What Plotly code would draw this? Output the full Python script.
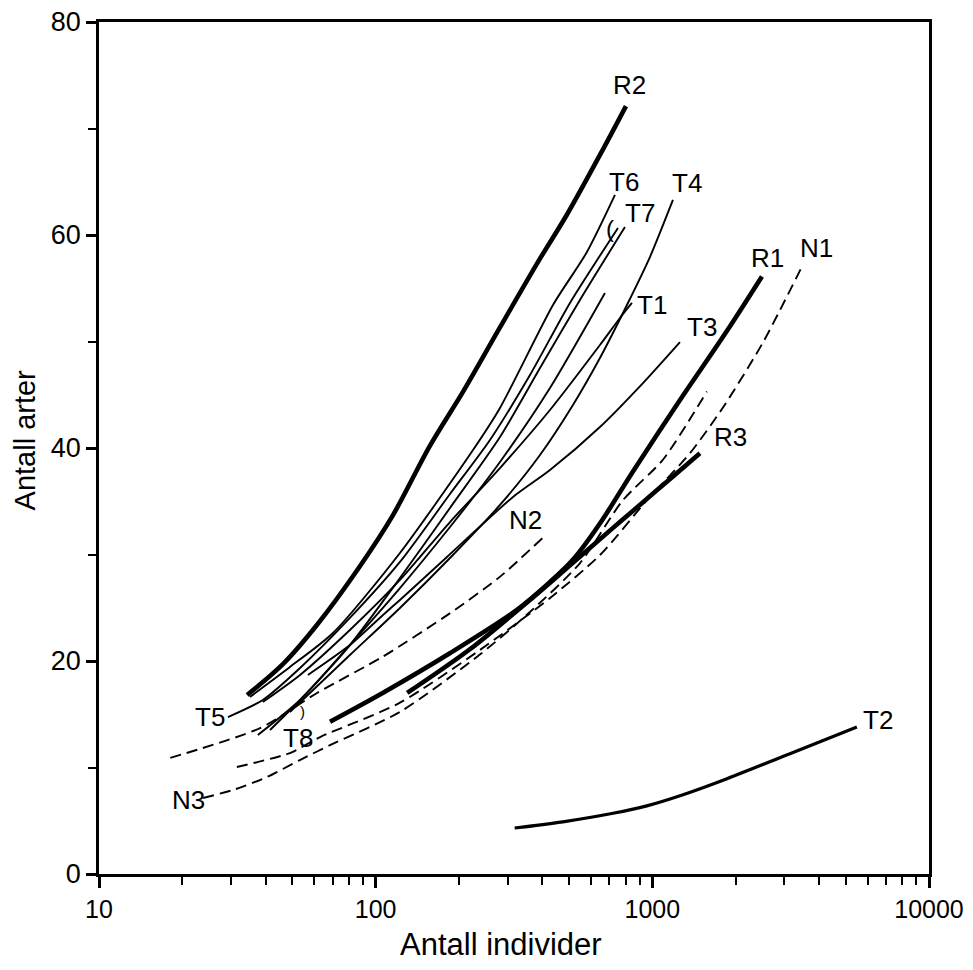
import math
import plotly.graph_objects as go

# ---- data ----
R2_x = [34.3, 46.2, 61.4, 87.7, 115.5, 157, 207, 281, 393, 491, 662, 803]
R2_y = [16.8, 19.7, 23.4, 28.9, 33.7, 40.2, 45.3, 51.3, 57.8, 61.9, 68.0, 72.1]

R1_x = [68.4, 106, 186, 324, 426, 520, 650, 851, 1259, 1862, 2490]
R1_y = [14.3, 17.0, 20.75, 24.8, 27.4, 29.6, 33.0, 37.8, 44.5, 51.0, 56.1]

R3_x = [130, 219, 352, 475, 721, 925, 1159, 1486]
R3_y = [17.0, 21.1, 25.5, 28.4, 32.5, 34.9, 37.1, 39.5]

T6_x = [35.1, 49.0, 70.1, 122.4, 224.8, 281.4, 437.4, 580.2, 732.7]
T6_y = [16.62, 19.44, 22.63, 30.14, 39.81, 43.76, 53.43, 58.40, 63.76]

T5_x = [29.25, 39.1, 53.3, 80.7, 122.4, 185.6, 258.9, 361.2, 503.8, 751.3]
T5_y = [14.74, 16.34, 19.34, 24.04, 29.30, 35.68, 40.75, 46.85, 53.62, 60.66]

T7_x = [41.5, 53.3, 80.7, 122.4, 185.6, 281.4, 392.6, 547.4, 796.2]
T7_y = [13.52, 16.34, 21.50, 27.79, 34.37, 41.03, 47.51, 53.90, 60.75]

T8_x = [37.5, 53.3, 80.7, 122.4, 185.6, 281.4, 426.6, 674.1]
T8_y = [13.05, 16.34, 21.5, 26.85, 32.58, 38.69, 45.63, 54.55]

T1_x = [39.1, 53.3, 80.7, 122.4, 185.6, 281.4, 426.6, 646.5, 763.6, 843.9]
T1_y = [16.15, 18.69, 22.91, 27.61, 33.05, 38.12, 43.57, 49.67, 52.21, 53.62]

T4_x = [49.0, 80.7, 122.4, 185.6, 281.4, 392.6, 516.5, 646.5, 809.5, 980.2, 1187]
T4_y = [15.21, 20.56, 24.98, 29.67, 34.65, 39.34, 44.04, 48.45, 53.43, 57.93, 63.29]

T3_x = [56.9, 80.7, 106.3, 122.4, 181, 313.6, 426.6, 646.5, 924.9, 1258.6]
T3_y = [18.69, 21.5, 24.32, 25.73, 29.77, 35.4, 37.93, 41.97, 46.1, 49.95]

T2_x = [318, 475, 721, 955, 1259, 1862, 3143, 5487]
T2_y = [4.32, 4.9, 5.7, 6.4, 7.35, 8.95, 11.3, 13.8]

N1_x = [31.5, 49, 63, 122, 238, 426, 647, 956, 1367, 1800, 2510, 3500]
N1_y = [10.05, 11.36, 12.86, 16.06, 21.03, 25.9, 29.95, 35.1, 39.5, 43.8, 49.9, 57.2]

N2_x = [18.1, 38.2, 61.4, 106, 186, 281, 403]
N2_y = [10.9, 13.7, 17.0, 20.4, 24.5, 27.9, 31.6]

N3_x = [23.8, 30.5, 40.4, 53.2, 68.4, 122, 238, 361, 548, 783, 1092, 1574]
N3_y = [7.14, 7.89, 9.1, 10.7, 12.1, 15.2, 20.6, 24.6, 29.2, 35.1, 38.9, 45.3]

label_text = ["R2", "T6", "T7", "T4", "T1", "T3", "R1", "N1", "R3", "N2", "T5", "T8", "N3", "T2"]
label_x = [830, 789, 901, 1333, 997, 1510, 2618, 3936, 1923, 349, 25.2, 52.4, 21.0, 6531]
label_y = [74.1, 65.0, 62.1, 64.9, 53.4, 51.4, 57.8, 58.8, 41.0, 33.2, 14.7, 12.8, 6.95, 14.5]

mark_text = ["(", ")"]
mark_x = [703, 54.2]
mark_y = [60.6, 15.3]
mark_size = [24, 15]

x_tick_vals = [10, 100, 1000, 10000]
x_tick_text = ["10", "100", "1000", "10000"]
x_minor_vals = [m * d for d in (10, 100, 1000) for m in range(2, 10)]
y_tick_vals = [0, 20, 40, 60, 80]
y_minor_vals = [10, 30, 50, 70]

x_title = "Antall individer"
y_title = "Antall arter"

# ---- figure ----
fig = go.Figure()

def add_line(xs, ys, width, dash="solid", smoothing=0.7):
    fig.add_trace(go.Scatter(x=xs, y=ys, mode="lines",
                             line=dict(color="black", width=width, dash=dash,
                                       shape="spline", smoothing=smoothing),
                             showlegend=False, hoverinfo="skip"))

THIN = 1.9
THICK = 4.6
DASH = "11px,6px"

for xs, ys in [(T6_x, T6_y), (T5_x, T5_y), (T7_x, T7_y), (T8_x, T8_y),
               (T1_x, T1_y), (T4_x, T4_y), (T3_x, T3_y)]:
    add_line(xs, ys, THIN)
add_line(T2_x, T2_y, 3.2, smoothing=1.0)
for xs, ys in [(N1_x, N1_y), (N2_x, N2_y), (N3_x, N3_y)]:
    add_line(xs, ys, THIN, DASH)
for xs, ys in [(R2_x, R2_y), (R1_x, R1_y), (R3_x, R3_y)]:
    add_line(xs, ys, THICK, smoothing=0.9)

FAMILY = "Liberation Sans, Arial, Helvetica, sans-serif"

# annotation x on a log axis is given in log10 units
for t, x, y in zip(label_text, label_x, label_y):
    fig.add_annotation(x=math.log10(x), y=y, xref="x", yref="y", text=t, showarrow=False,
                       xanchor="center", yanchor="middle",
                       font=dict(family=FAMILY, size=26, color="black"))
for t, x, y, s in zip(mark_text, mark_x, mark_y, mark_size):
    fig.add_annotation(x=math.log10(x), y=y, xref="x", yref="y", text=t, showarrow=False,
                       xanchor="center", yanchor="middle",
                       font=dict(family=FAMILY, size=s, color="black"))

# axis titles
fig.add_annotation(x=0.484, y=-0.083, xref="paper", yref="paper", text=x_title,
                   showarrow=False, xanchor="center", yanchor="middle",
                   font=dict(family=FAMILY, size=31, color="black"))
fig.add_annotation(x=-0.089, y=0.509, xref="paper", yref="paper", text=y_title,
                   showarrow=False, xanchor="center", yanchor="middle", textangle=-90,
                   font=dict(family=FAMILY, size=29, color="black"))

fig.update_layout(
    width=973, height=970,
    margin=dict(l=91, r=52, t=14, b=104),
    paper_bgcolor="white", plot_bgcolor="white",
    showlegend=False,
    xaxis=dict(type="log", range=[1, 4], showgrid=False, zeroline=False, automargin=False,
               showline=True, linecolor="black", linewidth=2.5, mirror=True,
               tickmode="array", tickvals=x_tick_vals, ticktext=x_tick_text,
               ticks="outside", ticklen=11, tickwidth=2.5, tickcolor="black",
               ticklabeloverflow="allow",
               tickfont=dict(size=25, family=FAMILY, color="black"),
               minor=dict(tickmode="array", tickvals=x_minor_vals, ticks="outside",
                          ticklen=8, tickwidth=2.2, tickcolor="black", showgrid=False)),
    yaxis=dict(range=[0, 80], showgrid=False, zeroline=False, automargin=False,
               showline=True, linecolor="black", linewidth=2.5, mirror=True,
               tickmode="array", tickvals=y_tick_vals,
               ticks="outside", ticklen=10, tickwidth=2.5, tickcolor="black",
               ticklabeloverflow="allow",
               tickfont=dict(size=27, family=FAMILY, color="black"),
               minor=dict(tickmode="array", tickvals=y_minor_vals, ticks="outside",
                          ticklen=8, tickwidth=2.2, tickcolor="black", showgrid=False)),
)

fig.write_html("out.html")
